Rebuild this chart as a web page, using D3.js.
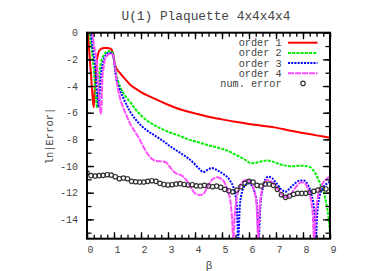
<!DOCTYPE html>
<html><head><meta charset="utf-8">
<script src="https://cdn.jsdelivr.net/npm/d3@7"></script>
<style>body{margin:0;background:#fff}svg{display:block}text{font-family:"Liberation Mono","DejaVu Sans Mono",monospace;fill:#444}</style>
</head><body>
<svg id="c" width="388" height="271"></svg>
<script>
const title = "U(1) Plaquette 4x4x4x4";
const xLabel = "β";
const yLabel = "ln|Error|";
const xTicks = [0,1,2,3,4,5,6,7,8,9];
const yTicks = [0,-2,-4,-6,-8,-10,-12,-14];
const seriesNames = ["order 1","order 2","order 3","order 4"];
const seriesColors = ["#ff0000","#00f000","#0000ff","#ff4dff"];
const order1 = [[0.02,0.6],[0.04,0],[0.07,-1.0],[0.11,-2.15],[0.15,-3.2],[0.2,-4.65],[0.25,-5.6],[0.29,-4.2],[0.33,-2.9],[0.36,-2.15],[0.4,-1.7],[0.44,-1.4],[0.52,-1.22],[0.63,-1.15],[0.75,-1.15],[0.88,-1.22],[0.94,-1.4],[0.98,-1.7],[1.02,-2.3],[1.06,-2.55],[1.21,-3.0],[1.4,-3.45],[1.6,-3.9],[1.8,-4.2],[2.0,-4.45],[2.5,-4.95],[3.0,-5.4],[3.5,-5.78],[4.0,-6.05],[4.5,-6.3],[5.0,-6.5],[5.5,-6.68],[6.0,-6.85],[6.5,-6.98],[7.0,-7.12],[7.5,-7.33],[8.0,-7.52],[8.5,-7.7],[9.0,-7.88]];
const order2 = [[0.08,0.6],[0.1,0],[0.16,-1.1],[0.22,-2.15],[0.27,-3.3],[0.32,-4.65],[0.38,-5.65],[0.41,-4.6],[0.44,-3.4],[0.48,-2.7],[0.53,-2.15],[0.63,-1.65],[0.78,-1.4],[0.9,-1.4],[0.96,-1.6],[1.0,-1.95],[1.05,-2.7],[1.12,-3.4],[1.25,-4.15],[1.4,-4.7],[1.6,-5.2],[1.8,-5.75],[2.0,-6.2],[2.2,-6.55],[2.5,-6.95],[2.8,-7.25],[3.1,-7.5],[3.4,-7.72],[3.75,-8.0],[4.1,-8.2],[4.5,-8.45],[4.9,-8.65],[5.2,-8.85],[5.5,-9.15],[5.8,-9.45],[6.1,-9.8],[6.4,-9.68],[6.66,-9.58],[6.85,-9.65],[7.05,-9.8],[7.3,-9.95],[7.6,-10.02],[7.9,-9.98],[8.1,-10.0],[8.26,-10.08],[8.44,-10.5],[8.63,-11.3],[8.81,-12.3],[8.94,-13.8],[9.0,-15.0]];
const order3 = [[0.13,0.6],[0.15,0],[0.21,-1.1],[0.28,-2.15],[0.33,-3.3],[0.38,-4.65],[0.44,-5.6],[0.47,-4.5],[0.51,-3.4],[0.55,-2.7],[0.6,-2.15],[0.69,-1.7],[0.81,-1.52],[0.92,-1.52],[0.97,-1.75],[1.0,-2.1],[1.06,-3.15],[1.19,-4.15],[1.37,-5.0],[1.6,-5.93],[1.8,-6.5],[2.0,-6.95],[2.2,-7.3],[2.5,-7.7],[2.8,-8.1],[3.1,-8.55],[3.44,-9.0],[3.7,-9.35],[3.94,-9.75],[4.15,-10.2],[4.31,-10.45],[4.45,-10.3],[4.62,-10.15],[4.85,-10.35],[5.05,-10.6],[5.3,-11.1],[5.45,-11.8],[5.55,-13.0],[5.6,-15.5],[5.66,-13.0],[5.75,-11.9],[5.88,-11.4],[5.98,-11.3],[6.1,-11.45],[6.2,-11.9],[6.3,-13.0],[6.36,-15.5],[6.42,-13.0],[6.52,-11.6],[6.62,-10.95],[6.72,-10.8],[6.85,-10.9],[7.0,-11.25],[7.2,-11.75],[7.35,-11.92],[7.5,-11.7],[7.7,-11.3],[7.9,-11.08],[8.05,-11.1],[8.2,-11.5],[8.32,-12.2],[8.42,-13.5],[8.47,-15.5],[8.53,-13.5],[8.62,-12.2],[8.75,-11.6],[8.9,-11.3],[9.0,-11.15]];
const order4 = [[0.17,0.6],[0.2,0],[0.27,-1.1],[0.36,-2.15],[0.4,-3.3],[0.44,-4.65],[0.52,-6.1],[0.55,-4.6],[0.57,-3.4],[0.61,-2.7],[0.65,-2.15],[0.75,-1.7],[0.88,-1.6],[0.96,-1.65],[1.0,-2.0],[1.04,-2.6],[1.12,-3.9],[1.25,-5.1],[1.4,-5.9],[1.59,-6.8],[1.8,-7.5],[1.96,-8.05],[2.1,-8.6],[2.25,-9.1],[2.4,-9.45],[2.58,-9.62],[2.75,-9.65],[2.9,-9.7],[3.05,-10.0],[3.2,-10.4],[3.35,-10.6],[3.5,-10.7],[3.68,-11.05],[3.85,-11.6],[4.0,-12.05],[4.19,-12.17],[4.35,-12.0],[4.5,-11.4],[4.65,-11.0],[4.82,-10.85],[5.0,-11.0],[5.12,-11.35],[5.23,-11.9],[5.32,-12.8],[5.37,-13.8],[5.42,-15.5],[5.47,-13.8],[5.55,-12.3],[5.68,-11.45],[5.82,-11.1],[5.95,-11.05],[6.08,-11.3],[6.2,-11.9],[6.28,-12.9],[6.34,-15.5],[6.4,-13.0],[6.48,-11.8],[6.58,-11.2],[6.68,-11.05],[6.85,-11.2],[7.05,-11.7],[7.25,-12.2],[7.4,-12.35],[7.55,-12.1],[7.75,-11.55],[7.92,-11.22],[8.05,-11.25],[8.18,-11.7],[8.28,-12.4],[8.36,-13.6],[8.41,-15.5],[8.47,-13.6],[8.56,-12.2],[8.68,-11.5],[8.82,-11.05],[9.0,-10.8]];
const numErrBeta = [0,0.15,0.3,0.45,0.6,0.75,0.9,1.05,1.2,1.35,1.5,1.65,1.8,1.95,2.1,2.25,2.4,2.55,2.7,2.85,3.0,3.15,3.3,3.45,3.6,3.75,3.9,4.05,4.2,4.35,4.5,4.65,4.8,4.95,5.1,5.25,5.4,5.55,5.7,5.85,6.0,6.15,6.3,6.45,6.6,6.75,6.9,7.05,7.2,7.35,7.5,7.65,7.8,7.95,8.1,8.25,8.4,8.55,8.7,8.85];
const numErr = [-10.5,-10.72,-10.75,-10.72,-10.7,-10.65,-10.68,-10.8,-10.95,-10.9,-10.95,-11.15,-11.18,-11.2,-11.2,-11.15,-11.1,-11.15,-11.3,-11.38,-11.42,-11.4,-11.35,-11.32,-11.38,-11.42,-11.4,-11.48,-11.5,-11.45,-11.5,-11.55,-11.5,-11.6,-11.75,-11.85,-11.93,-11.8,-11.55,-11.3,-11.15,-11.2,-11.45,-11.5,-11.35,-11.35,-11.45,-11.75,-12.15,-12.35,-12.25,-12.12,-12.05,-12.05,-12.05,-11.98,-11.9,-11.8,-11.68,-11.72];

const svg = d3.select("#c");
const L=87,R=330,T=32.7,B=238.7;
const x = d3.scaleLinear().domain([0,9]).range([L,R]);
const y = d3.scaleLinear().domain([-15.45,0]).range([B,T]);

svg.append("defs").append("clipPath").attr("id","clip").append("rect")
  .attr("x",L).attr("y",T).attr("width",R-L).attr("height",B-T);

const dashes = [null,"3,1.2","2,1.2","6,1"];
const series=[order1,order2,order3,order4];
const line = d3.line().x(d=>x(d[0])).y(d=>y(d[1])).curve(d3.curveMonotoneX);
const g = svg.append("g").attr("clip-path","url(#clip)");
series.forEach((s,i)=>{
  g.append("path").datum(s).attr("d",line).attr("fill","none")
   .attr("stroke",seriesColors[i]).attr("stroke-width",2)
   .attr("stroke-dasharray",dashes[i]);
});
g.selectAll("circle.ne").data(numErrBeta).enter().append("circle")
  .attr("cx",d=>x(d)).attr("cy",(d,i)=>y(numErr[i])).attr("r",2.2)
  .attr("fill","none").attr("stroke","#333").attr("stroke-width",1.2);

function ticks(axisGen, tr, vals, len, fmt){
  const a = svg.append("g").attr("transform",tr)
    .call(axisGen.tickValues(vals).tickSize(len).tickFormat(fmt));
  a.select(".domain").remove();
  a.selectAll("line").attr("stroke","#000").attr("stroke-width",1.3);
  return a;
}
const xMinor = d3.range(0,9.001,0.25);
const yMinor = d3.range(-15,0.001,1);
const none = ()=>"";
ticks(d3.axisTop(x),`translate(0,${B})`,xMinor,4,none);
ticks(d3.axisTop(x),`translate(0,${B})`,xTicks,6.5,none);
ticks(d3.axisBottom(x),`translate(0,${T})`,xMinor,4,none);
ticks(d3.axisBottom(x),`translate(0,${T})`,xTicks,6.5,none);
ticks(d3.axisRight(y),`translate(${L},0)`,yMinor,4.5,none);
ticks(d3.axisRight(y),`translate(${L},0)`,yTicks,7,none);
ticks(d3.axisLeft(y),`translate(${R},0)`,yMinor,4.5,none);
ticks(d3.axisLeft(y),`translate(${R},0)`,yTicks,7,none);

svg.append("rect").attr("x",L).attr("y",T).attr("width",R-L).attr("height",B-T)
  .attr("fill","none").attr("stroke","#000").attr("stroke-width",2);

svg.append("g").selectAll("text").data(xTicks).enter().append("text")
  .attr("x",d=>x(d)+3.5).attr("y",253).attr("text-anchor","middle")
  .attr("font-size",10).text(d=>d);
svg.append("g").selectAll("text").data(yTicks).enter().append("text")
  .attr("x",78).attr("y",d=>y(d)+3.5).attr("text-anchor","end")
  .attr("font-size",10).text(d=>d===0?"0":"-"+Math.abs(d));

svg.append("text").attr("x",206).attr("y",20).attr("text-anchor","middle")
  .attr("font-size",12.8).text(title);
svg.append("text").attr("x",209).attr("y",269).attr("text-anchor","middle")
  .attr("font-size",11).attr("font-family","DejaVu Sans").text(xLabel);
svg.append("text").attr("transform","translate(53,136) rotate(-90)")
  .attr("text-anchor","middle").attr("font-size",10.5).text(yLabel);

const legY = [42.7,52.9,63.1,73.2,83.4];
const legFont = 10.2;
seriesNames.forEach((n,i)=>{
  svg.append("text").attr("x",281.5).attr("y",legY[i]+3.5).attr("text-anchor","end")
    .attr("font-size",legFont).text(n);
  svg.append("line").attr("x1",288).attr("x2",317.5).attr("y1",legY[i]).attr("y2",legY[i])
    .attr("stroke",seriesColors[i]).attr("stroke-width",2).attr("stroke-dasharray",dashes[i]);
});
svg.append("text").attr("x",281.5).attr("y",legY[4]+3.5).attr("text-anchor","end")
  .attr("font-size",legFont).text("num. error");
svg.append("circle").attr("cx",303).attr("cy",legY[4]).attr("r",2.2)
  .attr("fill","none").attr("stroke","#333").attr("stroke-width",1.2);
</script>
</body></html>
